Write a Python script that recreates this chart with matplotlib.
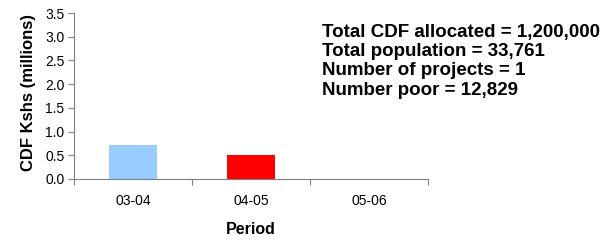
import matplotlib.pyplot as plt

plt.rcParams['font.family'] = ['Liberation Sans', 'DejaVu Sans']

periods = ['03-04', '04-05', '05-06']
cdf_millions = [0.72, 0.5, 0.0]
bar_colors = ['#99CCFF', '#FF0000', '#FF0000']
info_lines = ['Total CDF allocated = 1,200,000',
              'Total population = 33,761',
              'Number of projects = 1',
              'Number poor = 12,829']

fig = plt.figure(figsize=(6.13, 2.46), dpi=100)
ax = fig.add_axes([74/613, 1 - 179/246, 354/613, 166/246])

x = range(len(periods))
ax.bar(x, cdf_millions, width=0.41, color=bar_colors)
ax.set_xlim(-0.5, 2.5)
ax.set_ylim(0, 3.5)
ax.set_yticks([0, 0.5, 1.0, 1.5, 2.0, 2.5, 3.0, 3.5])
ax.set_yticklabels(['%.1f' % v for v in ax.get_yticks()], fontsize=10)
ax.set_xticks([-0.5, 0.5, 1.5, 2.5])
ax.set_xticklabels([])
ax.set_xticks(list(x), minor=True)
ax.set_xticklabels(periods, minor=True, fontsize=10)
ax.tick_params(axis='x', which='minor', length=0, pad=11)
ax.tick_params(axis='x', which='major', length=4, direction='out', color='#808080')
ax.tick_params(axis='y', length=4, direction='out', color='#808080', pad=3)

for s in ['top', 'right']:
    ax.spines[s].set_visible(False)
for s in ['left', 'bottom']:
    ax.spines[s].set_color('#808080')

ax.set_ylabel('CDF Kshs (millions)', fontsize=12, fontweight='bold')
ax.yaxis.set_label_coords(-0.128, 0.52)
ax.set_xlabel('Period', fontsize=11.5, fontweight='bold')
ax.xaxis.set_label_coords(0.5, -0.307)
ax.xaxis.label.set_va('center')
ax.yaxis.label.set_va('center')

fig.text(322/613, 1 - 24/246, '\n'.join(info_lines), fontsize=13.5,
         fontweight='bold', va='top', ha='left', linespacing=1.17)

fig.savefig('out.png', dpi=100)
